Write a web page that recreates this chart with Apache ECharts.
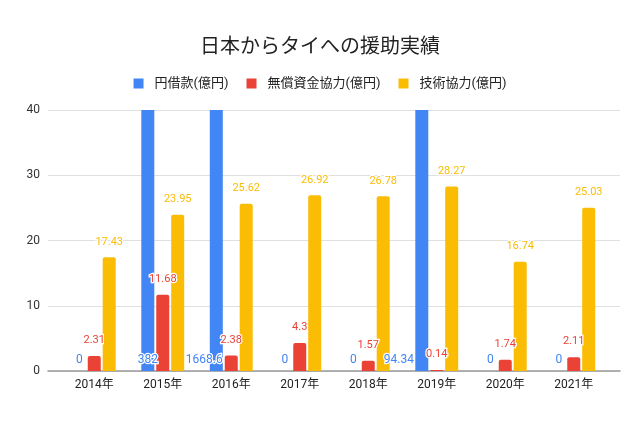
<!DOCTYPE html>
<html><head><meta charset="utf-8">
<script src="https://cdn.jsdelivr.net/npm/echarts@6/dist/echarts.min.js"></script>
<style>html,body{margin:0;padding:0;background:#fff}#c{width:640px;height:426px}</style>
</head><body><div id="c"></div>
<script>
const categories = ['2014年','2015年','2016年','2017年','2018年','2019年','2020年','2021年'];
const seriesNames = ['円借款(億円)','無償資金協力(億円)','技術協力(億円)'];
const yenLoan = [0, 382, 1668.6, 0, 0, 94.34, 0, 0];
const grantAid = [2.31, 11.68, 2.38, 4.3, 1.57, 0.14, 1.74, 2.11];
const techCoop = [17.43, 23.95, 25.62, 26.92, 26.78, 28.27, 16.74, 25.03];
const yTicks = [0, 10, 20, 30, 40];
// label x-shifts (style only) for the clipped yen-loan labels
const blueLabelShift = [0, 0, -12, 0, 0, -23, 0, 0];

const FONT = "Roboto, 'Noto Sans CJK JP', sans-serif";
const colors = ['#4285F4', '#EA4335', '#FBBC04'];
const halo = {textBorderColor: '#fff', textBorderWidth: 2.5};

const chart = echarts.init(document.getElementById('c'));
const blueData = yenLoan.map((v, i) => {
  if (v === 0) return {value: v, label: {position: 'top', distance: 5}};
  return {value: v, label: {position: 'insideBottom', distance: 5, offset: [blueLabelShift[i], 0]}};
});
chart.setOption({
  animation: false,
  textStyle: {fontFamily: FONT},
  title: {text: '日本からタイへの援助実績', left: 'center', top: 33,
    textStyle: {fontSize: 20, fontWeight: 'normal', color: '#222', fontFamily: FONT}},
  legend: {top: 72, left: 'center', icon: 'rect', itemWidth: 10, itemHeight: 10, itemGap: 18,
    textStyle: {fontSize: 13, color: '#222', fontFamily: FONT, padding: [0, 0, 0, 6]}, data: seriesNames},
  grid: [
    {left: 60, right: 32, top: 110, bottom: 55},
    {left: 48, right: 20, top: 110, bottom: 55}
  ],
  xAxis: [
    {gridIndex: 0, type: 'category', data: categories,
      axisLine: {show: false}, axisTick: {show: false},
      axisLabel: {fontSize: 12, color: '#222', margin: 8, fontFamily: FONT}},
    {gridIndex: 1, type: 'category', data: [''],
      axisLine: {show: true, lineStyle: {color: '#999', width: 1.5}}, axisTick: {show: false},
      axisLabel: {show: false}}
  ],
  yAxis: [
    {gridIndex: 0, type: 'value', min: yTicks[0], max: yTicks[yTicks.length-1], interval: 10,
      show: false, splitLine: {show: false}},
    {gridIndex: 1, type: 'value', min: yTicks[0], max: yTicks[yTicks.length-1], interval: 10,
      axisLine: {show: false}, axisTick: {show: false},
      axisLabel: {fontSize: 12, color: '#333', margin: 8, fontFamily: FONT},
      splitLine: {lineStyle: {color: '#e0e0e0'}}}
  ],
  series: [
    {name: seriesNames[0], type: 'bar', xAxisIndex: 0, yAxisIndex: 0, data: blueData,
      barWidth: 13, barGap: '15%', itemStyle: {color: colors[0]},
      label: Object.assign({show: true, color: colors[0], fontSize: 12}, halo)},
    {name: seriesNames[1], type: 'bar', xAxisIndex: 0, yAxisIndex: 0, data: grantAid,
      barWidth: 13, barGap: '15%', itemStyle: {color: colors[1], borderRadius: [2,2,0,0]},
      label: Object.assign({show: true, position: 'top', distance: 10, color: colors[1], fontSize: 11}, halo)},
    {name: seriesNames[2], type: 'bar', xAxisIndex: 0, yAxisIndex: 0, data: techCoop,
      barWidth: 13, barGap: '15%', itemStyle: {color: colors[2], borderRadius: [2,2,0,0]},
      label: Object.assign({show: true, position: 'top', distance: 10, color: colors[2], fontSize: 11}, halo)}
  ]
});
</script></body></html>
